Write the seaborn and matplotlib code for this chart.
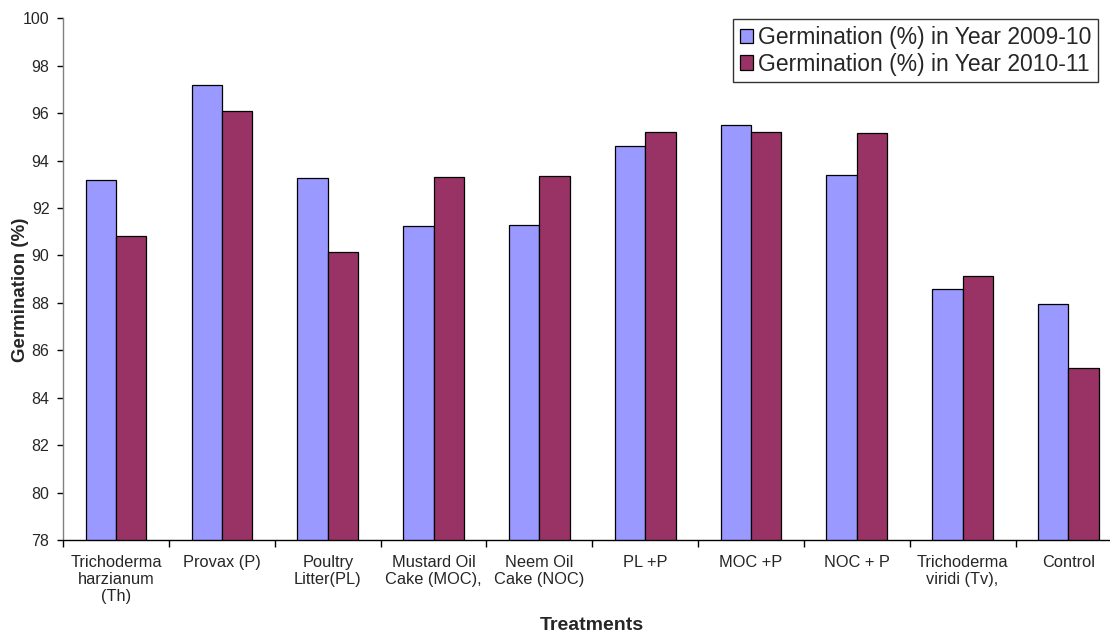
import matplotlib
matplotlib.use('Agg')
import matplotlib.pyplot as plt
import pandas as pd
import seaborn as sns

TREATMENTS = [
    'Trichoderma\nharzianum\n(Th)', 'Provax (P)', 'Poultry\nLitter(PL)',
    'Mustard Oil\nCake (MOC),', 'Neem Oil\nCake (NOC)', 'PL +P', 'MOC +P',
    'NOC + P', 'Trichoderma\nviridi (Tv),', 'Control',
]
YEAR_2009 = [93.2, 97.2, 93.25, 91.23, 91.27, 94.62, 95.52, 93.41, 88.59, 87.94]
YEAR_2010 = [90.8, 96.1, 90.15, 93.29, 93.33, 95.2, 95.2, 95.18, 89.12, 85.24]
SERIES = ['Germination (%) in Year 2009-10', 'Germination (%) in Year 2010-11']
COLORS = ['#9999FF', '#993366']
Y_TICKS = list(range(78, 101, 2))


def build_df():
    rows = []
    for name, values in zip(SERIES, [YEAR_2009, YEAR_2010]):
        for treatment, value in zip(TREATMENTS, values):
            rows.append({'Treatment': treatment, 'Series': name, 'Germination': value})
    return pd.DataFrame(rows)


def draw_bar_plot():
    df = build_df()

    sns.set_style('white')
    plt.rcParams['font.family'] = ['Liberation Sans', 'DejaVu Sans']

    fig = plt.figure(figsize=(11.1, 6.34), dpi=100)
    ax = fig.add_axes([0.0570, 0.1483, 0.9532, 0.8229])

    sns.barplot(data=df, x='Treatment', y='Germination', hue='Series',
                order=TREATMENTS, hue_order=SERIES, palette=COLORS,
                saturation=1, width=0.573, gap=0, edgecolor='black',
                linewidth=0.9, ax=ax)

    ax.set_ylim(78, 100)
    ax.set_xlim(-0.5, len(TREATMENTS) - 0.5)
    ax.set_yticks(Y_TICKS)
    ax.set_yticklabels([str(t) for t in Y_TICKS])
    ax.tick_params(axis='y', which='major', direction='out', length=4, width=1,
                   color='black', labelsize=11.5, pad=6, left=True)

    ax.set_xticks(range(len(TREATMENTS)))
    ax.set_xticklabels(TREATMENTS, fontsize=11.8, linespacing=1.15)
    ax.set_xticks([i - 0.5 for i in range(len(TREATMENTS) + 1)], minor=True)
    ax.tick_params(axis='x', which='major', length=0, pad=11)
    ax.tick_params(axis='x', which='minor', direction='out', length=5, width=1,
                   color='black', bottom=True)

    for side in ['top', 'right']:
        ax.spines[side].set_visible(False)
    ax.spines['left'].set_color('#808080')
    ax.spines['left'].set_linewidth(1)
    ax.spines['bottom'].set_color('black')
    ax.spines['bottom'].set_linewidth(1)

    ax.set_xlabel('Treatments', fontsize=14, fontweight='bold')
    ax.xaxis.set_label_coords(0.5, -0.147)
    ax.set_ylabel('Germination (%)', fontsize=13.5, fontweight='bold')
    ax.yaxis.set_label_coords(-0.032, 0.48)

    ax.legend(loc='upper left', bbox_to_anchor=(732.7 / 1110, 1 - 19.3 / 634),
              bbox_transform=fig.transFigure, fontsize=16.5, frameon=True,
              fancybox=False, framealpha=1, edgecolor='#333333',
              handlelength=0.6, handleheight=0.6, handletextpad=0.2,
              borderpad=0.3, labelspacing=0.15, borderaxespad=0)
    ax.get_legend().get_frame().set_linewidth(1)

    fig.savefig('out.png', dpi=100)
    return fig


draw_bar_plot()
